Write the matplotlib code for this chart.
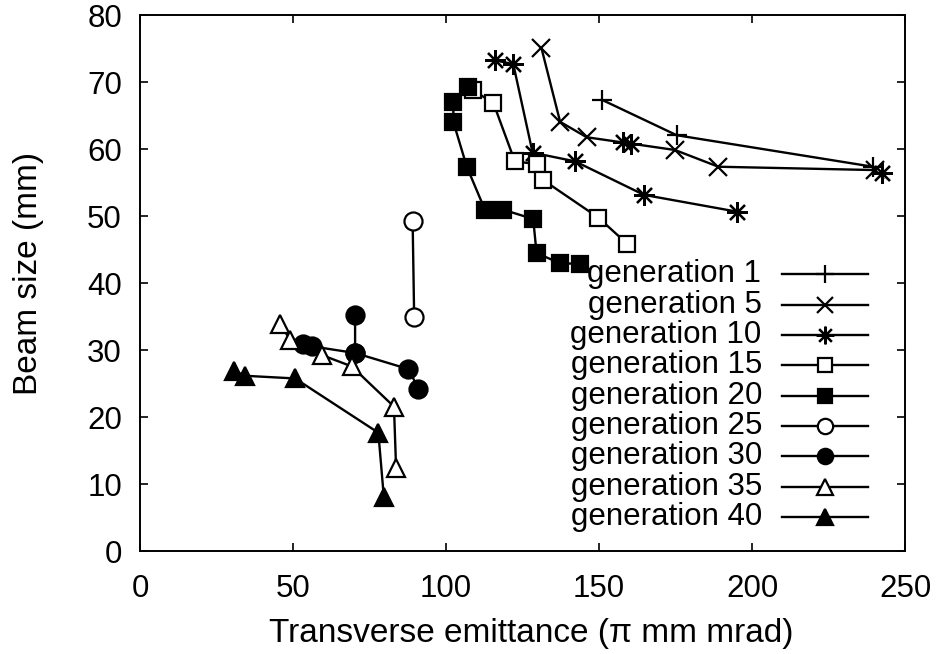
import numpy as np
import matplotlib
matplotlib.use("Agg")
import matplotlib.pyplot as plt

plt.rcParams['font.family'] = ['Liberation Sans', 'DejaVu Sans']

nan = np.nan

# emittance (pi mm mrad) and beam size (mm) per generation; NaN splits a curve
gen1_x = [150.9, 175.4, 239.5]
gen1_y = [67.4, 62.1, 57.4]

gen5_x = [131.2, 137.3, 146.0, 174.8, 189.0, 240.2]
gen5_y = [75.1, 64.1, 61.8, 59.9, 57.4, 56.9]

gen10_x = [116.0, 122.0, 128.3, 142.2, 164.7, 195.0, nan, 158.0, 160.5, nan, 242.4]
gen10_y = [73.3, 72.7, 59.5, 58.2, 53.2, 50.7, nan, 61.1, 60.8, nan, 56.4]

gen15_x = [108.9, 115.5, 122.5, 129.6, 131.8, 149.8, 159.2]
gen15_y = [68.8, 66.9, 58.2, 57.8, 55.4, 49.8, 45.9]

gen20_x = [107.3, 102.4, 102.4, 106.8, 112.7, 118.6, 128.5, 129.6, 137.3, 143.8]
gen20_y = [69.3, 67.0, 64.1, 57.4, 51.0, 51.0, 49.6, 44.5, 43.0, 42.9]

gen25_x = [89.1, 89.6]
gen25_y = [49.3, 35.0]

gen30_x = [70.3, 70.3, nan, 53.4, 56.1, 70.3, 87.7, 91.0]
gen30_y = [35.3, 29.6, nan, 31.0, 30.6, 29.6, 27.2, 24.3]

gen35_x = [45.8, 49.0, 59.4, 69.2, 83.0, 83.7]
gen35_y = [34.0, 31.6, 29.3, 27.6, 21.6, 12.4]

gen40_x = [30.7, 34.3, 50.7, 77.9, 79.7]
gen40_y = [26.95, 26.2, 25.8, 17.7, 8.06]

labels = ["generation 1", "generation 5", "generation 10", "generation 15",
          "generation 20", "generation 25", "generation 30", "generation 35",
          "generation 40"]

series = [(gen1_x, gen1_y), (gen5_x, gen5_y), (gen10_x, gen10_y),
          (gen15_x, gen15_y), (gen20_x, gen20_y), (gen25_x, gen25_y),
          (gen30_x, gen30_y), (gen35_x, gen35_y), (gen40_x, gen40_y)]

# gnuplot-like point types: +, x, *, open/filled square, circle, triangle
styles = [
    dict(marker='+', ms=15, mfc='none'),
    dict(marker='x', ms=13, mfc='none'),
    dict(marker=(8, 2, 0), ms=15, mfc='none'),
    dict(marker='s', ms=12, mfc='white'),
    dict(marker='s', ms=12, mfc='black'),
    dict(marker='o', ms=13, mfc='white'),
    dict(marker='o', ms=13, mfc='black'),
    dict(marker='^', ms=13, mfc='white'),
    dict(marker='^', ms=13, mfc='black'),
]

fig = plt.figure(figsize=(9.45, 6.54), dpi=100)
ax = fig.add_axes([0.1481, 0.157, 0.8096, 0.8196])

for (x, y), lab, st in zip(series, labels, styles):
    ax.plot(x, y, color='black', lw=1.7, mec='black', mew=1.6,
            label=lab, **st)

ax.set_xlim(0, 250)
ax.set_ylim(0, 80)
ax.set_xticks(np.arange(0, 251, 50))
ax.set_yticks(np.arange(0, 81, 10))
ax.tick_params(direction='in', length=6, width=1.2, top=True, right=True,
               labelsize=22.5, pad=13)
ax.tick_params(axis='x', pad=16)
for sp in ax.spines.values():
    sp.set_linewidth(1.4)

ax.set_xlabel("Transverse emittance (\u03c0 mm mrad)", fontsize=24)
ax.set_ylabel("Beam size (mm)", fontsize=24)
ax.xaxis.set_label_coords(0.512, -0.125)
ax.yaxis.set_label_coords(-0.1255, 0.519)

# legend with samples only; labels are written right-aligned beside them
leg = ax.legend(loc='lower right', bbox_to_anchor=(0.952, 0.034),
                frameon=False, markerfirst=False, fontsize=21,
                handlelength=2.95, handletextpad=0.7, labelspacing=0.08,
                markerscale=0.85, borderpad=0, borderaxespad=0)
for t in leg.get_texts():
    t.set_visible(False)

fig.canvas.draw()
for h, lab in zip(leg.legend_handles, labels):
    ax.annotate(lab, xy=(0, 0.5), xycoords=h, xytext=(-9, 0),
                textcoords='offset points', ha='right', va='center',
                fontsize=22.5)

fig.savefig("out.png", dpi=100, facecolor='white')
